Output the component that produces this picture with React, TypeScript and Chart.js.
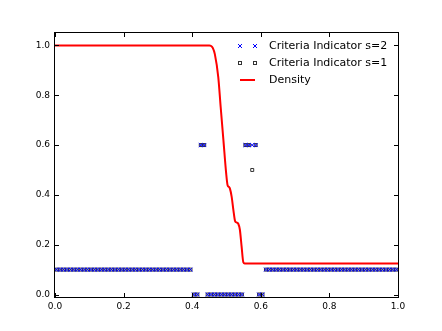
import { useEffect, useRef } from "react";
import { Chart, registerables } from "chart.js";

Chart.register(...registerables);

// Cell centres (100 cells on [0,1])
const cellX = [
  0.005, 0.015, 0.025, 0.035, 0.045, 0.055, 0.065, 0.075, 0.085, 0.095,
  0.105, 0.115, 0.125, 0.135, 0.145, 0.155, 0.165, 0.175, 0.185, 0.195,
  0.205, 0.215, 0.225, 0.235, 0.245, 0.255, 0.265, 0.275, 0.285, 0.295,
  0.305, 0.315, 0.325, 0.335, 0.345, 0.355, 0.365, 0.375, 0.385, 0.395,
  0.405, 0.415, 0.425, 0.435, 0.445, 0.455, 0.465, 0.475, 0.485, 0.495,
  0.505, 0.515, 0.525, 0.535, 0.545, 0.555, 0.565, 0.575, 0.585, 0.595,
  0.605, 0.615, 0.625, 0.635, 0.645, 0.655, 0.665, 0.675, 0.685, 0.695,
  0.705, 0.715, 0.725, 0.735, 0.745, 0.755, 0.765, 0.775, 0.785, 0.795,
  0.805, 0.815, 0.825, 0.835, 0.845, 0.855, 0.865, 0.875, 0.885, 0.895,
  0.905, 0.915, 0.925, 0.935, 0.945, 0.955, 0.965, 0.975, 0.985, 0.995,
];

const indicatorS2 = [
  0.1, 0.1, 0.1, 0.1, 0.1, 0.1, 0.1, 0.1, 0.1, 0.1,
  0.1, 0.1, 0.1, 0.1, 0.1, 0.1, 0.1, 0.1, 0.1, 0.1,
  0.1, 0.1, 0.1, 0.1, 0.1, 0.1, 0.1, 0.1, 0.1, 0.1,
  0.1, 0.1, 0.1, 0.1, 0.1, 0.1, 0.1, 0.1, 0.1, 0.1,
  0, 0, 0.6, 0.6, 0, 0, 0, 0, 0, 0,
  0, 0, 0, 0, 0, 0.6, 0.6, 0.6, 0.6, 0,
  0, 0.1, 0.1, 0.1, 0.1, 0.1, 0.1, 0.1, 0.1, 0.1,
  0.1, 0.1, 0.1, 0.1, 0.1, 0.1, 0.1, 0.1, 0.1, 0.1,
  0.1, 0.1, 0.1, 0.1, 0.1, 0.1, 0.1, 0.1, 0.1, 0.1,
  0.1, 0.1, 0.1, 0.1, 0.1, 0.1, 0.1, 0.1, 0.1, 0.1,
];

const indicatorS1 = [
  0.1, 0.1, 0.1, 0.1, 0.1, 0.1, 0.1, 0.1, 0.1, 0.1,
  0.1, 0.1, 0.1, 0.1, 0.1, 0.1, 0.1, 0.1, 0.1, 0.1,
  0.1, 0.1, 0.1, 0.1, 0.1, 0.1, 0.1, 0.1, 0.1, 0.1,
  0.1, 0.1, 0.1, 0.1, 0.1, 0.1, 0.1, 0.1, 0.1, 0.1,
  0, 0, 0.6, 0.6, 0, 0, 0, 0, 0, 0,
  0, 0, 0, 0, 0, 0.6, 0.6, 0.5, 0.6, 0,
  0, 0.1, 0.1, 0.1, 0.1, 0.1, 0.1, 0.1, 0.1, 0.1,
  0.1, 0.1, 0.1, 0.1, 0.1, 0.1, 0.1, 0.1, 0.1, 0.1,
  0.1, 0.1, 0.1, 0.1, 0.1, 0.1, 0.1, 0.1, 0.1, 0.1,
  0.1, 0.1, 0.1, 0.1, 0.1, 0.1, 0.1, 0.1, 0.1, 0.1,
];

const densityX = [
  0, 0.45, 0.455, 0.46, 0.466, 0.476, 0.483, 0.491, 0.499, 0.503, 0.507,
  0.51, 0.515, 0.52, 0.525, 0.53, 0.534, 0.539, 0.544, 0.549, 0.553, 0.56, 1.0,
];
const densityY = [
  1.0, 1.0, 0.998, 0.99, 0.965, 0.873, 0.753, 0.62, 0.487, 0.44, 0.432,
  0.425, 0.393, 0.34, 0.295, 0.289, 0.285, 0.26, 0.193, 0.13, 0.125, 0.125, 0.125,
];

const xTicks = [0, 0.2, 0.4, 0.6, 0.8, 1.0];
const yTicks = [0, 0.2, 0.4, 0.6, 0.8, 1.0];
const legendLabels = ["Criteria Indicator s=2", "Criteria Indicator s=1", "Density"];

const FONT = "'DejaVu Sans', sans-serif";

const framePlugin = {
  id: "mplFrame",
  afterDraw(chart: any) {
    const { ctx, chartArea, scales } = chart;
    const { left, right, top, bottom } = chartArea;
    ctx.save();
    ctx.strokeStyle = "#000";
    ctx.lineWidth = 1;
    ctx.strokeRect(left - 0.5, top - 0.5, right - left + 1, bottom - top + 1);
    ctx.beginPath();
    for (const v of xTicks) {
      const px = Math.round(scales.x.getPixelForValue(v)) + 0.5;
      ctx.moveTo(px, bottom);
      ctx.lineTo(px, bottom - 4);
      ctx.moveTo(px, top);
      ctx.lineTo(px, top + 4);
    }
    for (const v of yTicks) {
      const py = Math.round(scales.y.getPixelForValue(v)) + 0.5;
      ctx.moveTo(left, py);
      ctx.lineTo(left + 4, py);
      ctx.moveTo(right, py);
      ctx.lineTo(right - 4, py);
    }
    ctx.stroke();

    // legend
    const rowY = [46, 63, 80];
    const m1 = 240;
    const m2 = 255;
    const textX = 269;
    ctx.font = `11px ${FONT}`;
    ctx.fillStyle = "#000";
    ctx.textBaseline = "middle";
    ctx.textAlign = "left";
    legendLabels.forEach((lab, i) => {
      const y = rowY[i];
      if (i === 0) {
        ctx.strokeStyle = "blue";
        ctx.lineWidth = 1;
        for (const mx of [m1, m2]) {
          ctx.beginPath();
          ctx.moveTo(mx - 2, y - 2);
          ctx.lineTo(mx + 2, y + 2);
          ctx.moveTo(mx - 2, y + 2);
          ctx.lineTo(mx + 2, y - 2);
          ctx.stroke();
        }
      } else if (i === 1) {
        ctx.strokeStyle = "#333";
        ctx.lineWidth = 1;
        for (const mx of [m1, m2]) {
          ctx.strokeRect(mx - 1.5, y - 1.5, 3, 3);
        }
      } else {
        ctx.strokeStyle = "red";
        ctx.lineWidth = 2;
        ctx.beginPath();
        ctx.moveTo(m1, y);
        ctx.lineTo(m2, y);
        ctx.stroke();
      }
      ctx.fillText(lab, textX, y);
    });
    ctx.restore();
  },
};

export default function App() {
  const ref = useRef<HTMLCanvasElement | null>(null);

  useEffect(() => {
    if (!ref.current) return;
    const chart = new Chart(ref.current, {
      type: "scatter",
      data: {
        datasets: [
          {
            label: legendLabels[2],
            data: densityX.map((x, i) => ({ x, y: densityY[i] })),
            showLine: true,
            borderColor: "red",
            borderWidth: 2,
            pointRadius: 0,
            cubicInterpolationMode: "monotone",
            order: 0,
            clip: 0,
          } as any,
          {
            label: legendLabels[0],
            data: cellX.map((x, i) => ({ x, y: indicatorS2[i] })),
            pointStyle: "crossRot",
            pointRadius: 2.8,
            borderColor: "blue",
            backgroundColor: "blue",
            borderWidth: 1,
            order: 1,
            clip: 0,
          } as any,
          {
            label: legendLabels[1],
            data: cellX.map((x, i) => ({ x, y: indicatorS1[i] })),
            pointStyle: "rect",
            pointRadius: 2.1,
            borderColor: "#333",
            backgroundColor: "rgba(255,255,255,0)",
            borderWidth: 1,
            order: 2,
            clip: 0,
          } as any,
        ],
      },
      options: {
        animation: false,
        responsive: false,
        events: [],
        layout: { padding: { left: 0, right: 44, top: 33, bottom: 0 } },
        plugins: { legend: { display: false }, tooltip: { enabled: false } },
        scales: {
          x: {
            type: "linear",
            min: 0,
            max: 1,
            grid: { display: false, drawTicks: false },
            border: { display: false },
            afterBuildTicks: (axis: any) => {
              axis.ticks = xTicks.map((v) => ({ value: v }));
            },
            afterFit: (axis: any) => {
              axis.height = 34;
            },
            ticks: {
              padding: 4,
              color: "#000",
              font: { family: FONT, size: 9 },
              callback: (v: any) => Number(v).toFixed(1),
            },
          },
          y: {
            type: "linear",
            min: -0.01,
            max: 1.05,
            grid: { display: false, drawTicks: false },
            border: { display: false },
            afterBuildTicks: (axis: any) => {
              axis.ticks = yTicks.map((v) => ({ value: v }));
            },
            afterFit: (axis: any) => {
              axis.width = 55;
            },
            ticks: {
              padding: 5,
              color: "#000",
              font: { family: FONT, size: 9 },
              callback: (v: any) => Number(v).toFixed(1),
            },
          },
        },
      },
      plugins: [framePlugin],
    });
    return () => chart.destroy();
  }, []);

  return (
    <div style={{ position: "fixed", left: 0, top: 0, width: 442, height: 331, background: "#fff" }}>
      <canvas ref={ref} width={442} height={331} style={{ width: 442, height: 331 }} />
    </div>
  );
}
